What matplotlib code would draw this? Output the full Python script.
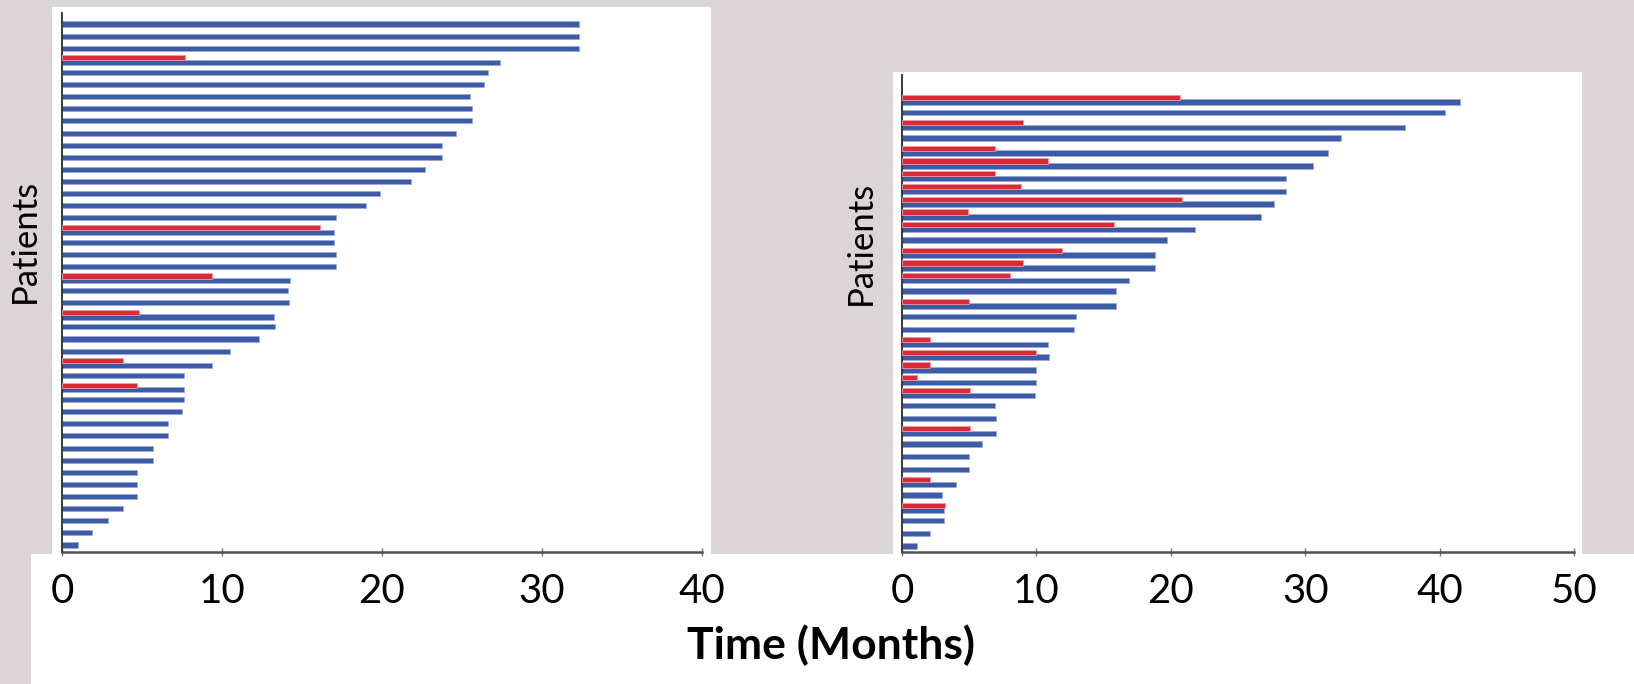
import matplotlib.pyplot as plt
import matplotlib.patches as mpatches
import numpy as np

# Left panel: time per patient (months), listed top to bottom
left_blue = [32.3, 32.3, 32.3, 27.4, 26.6, 26.4, 25.5, 25.6, 25.6, 24.6,
             23.75, 23.75, 22.7, 21.8, 19.9, 19.0, 17.1, 17.0, 17.0, 17.1,
             17.1, 14.25, 14.1, 14.2, 13.25, 13.3, 12.3, 10.5, 9.4, 7.6,
             7.6, 7.6, 7.5, 6.6, 6.6, 5.7, 5.7, 4.7, 4.7, 4.7,
             3.8, 2.9, 1.9, 1.0]
left_red_rows = [4, 18, 22, 25, 29, 31]
left_red_vals = [7.7, 16.1, 9.4, 4.8, 3.8, 4.7]

# Right panel, top to bottom
right_blue = [41.5, 40.4, 37.4, 32.7, 31.7, 30.6, 28.6, 28.6, 27.7, 26.7,
              21.8, 19.7, 18.8, 18.8, 16.9, 15.9, 15.9, 12.96, 12.8, 10.9,
              10.97, 9.97, 9.97, 9.9, 6.93, 7.0, 7.0, 5.96, 5.0, 5.0,
              4.03, 2.97, 3.1, 3.1, 2.06, 1.15]
right_red_rows = [1, 3, 5, 6, 7, 8, 9, 10, 11, 13, 14, 15, 17, 20, 21, 22, 23, 24, 27, 31, 33]
right_red_vals = [20.7, 9.0, 6.93, 10.9, 6.93, 8.86, 20.8, 4.9, 15.8, 11.9, 9.0, 8.0,
                  5.0, 2.06, 9.97, 2.06, 1.1, 5.05, 5.05, 2.06, 3.2]

left_ticks = [0, 10, 20, 30, 40]
right_ticks = [0, 10, 20, 30, 40, 50]

BLUE = '#3d5aa6'
BLUE_EDGE = '#9aaad6'
RED = '#d92a36'
RED_EDGE = '#ee9aa0'

W, H = 1634, 684
fig = plt.figure(figsize=(W / 100, H / 100), dpi=100)
fig.patch.set_facecolor('#dcd5d7')

# white panels behind the charts
def white_rect(x0, y0, x1, y1):
    fig.patches.append(mpatches.Rectangle((x0 / W, 1 - y1 / H), (x1 - x0) / W, (y1 - y0) / H,
                                          transform=fig.transFigure, facecolor='white',
                                          edgecolor='none', zorder=-5))

white_rect(52, 7, 711, 554)
white_rect(893, 72, 1582, 554)
white_rect(31, 554, 1634, 684)


def draw_panel(ax, blue, red_rows, red_vals, xmax, ticks, ylo, yhi):
    n = len(blue)
    pos = np.arange(n, 0, -1).astype(float)
    has_red = np.zeros(n, dtype=bool)
    has_red[np.array(red_rows) - 1] = True
    blue_pos = pos - 0.18 * has_red
    red_pos = pos[np.array(red_rows) - 1] + 0.2
    ax.barh(blue_pos, blue, height=0.42, color=BLUE, edgecolor=BLUE_EDGE, linewidth=0.6, zorder=2)
    ax.barh(red_pos, red_vals, height=0.42, color=RED, edgecolor=RED_EDGE, linewidth=0.6, zorder=3)
    ax.set_xlim(0, xmax)
    ax.set_ylim(ylo, yhi)
    ax.set_facecolor('none')
    ax.set_zorder(2)
    for s in ['top', 'right']:
        ax.spines[s].set_visible(False)
    ax.spines['left'].set_color('#2b2b2b')
    ax.spines['left'].set_linewidth(1.3)
    ax.spines['bottom'].set_color('#505050')
    ax.spines['bottom'].set_linewidth(1.8)
    ax.set_yticks([])
    ax.set_xticks(ticks)
    ax.set_xticklabels([str(t) for t in ticks], fontsize=29, family='Lato')
    ax.tick_params(axis='x', direction='inout', length=6, width=1, color='#777777', pad=12)


ax1 = fig.add_axes([62 / W, 1 - 552 / H, 640 / W, 539 / H])
draw_panel(ax1, left_blue, left_red_rows, left_red_vals, 40, left_ticks, 0.42, 44.91)

ax2 = fig.add_axes([902 / W, 1 - 552 / H, 672 / W, 477 / H])
draw_panel(ax2, right_blue, right_red_rows, right_red_vals, 50, right_ticks, 0.53, 37.95)

fig.text(25 / W, 1 - 241 / H, 'Patients', fontsize=25, family='Lato', rotation=90,
         ha='center', va='center')
fig.text(861 / W, 1 - 243 / H, 'Patients', fontsize=25, family='Lato', rotation=90,
         ha='center', va='center')

fig.text(831 / W, 1 - 645 / H, 'Time (Months)', fontsize=32, fontweight='bold',
         family='Lato', ha='center', va='center')

fig.savefig('out.png', dpi=100, facecolor=fig.get_facecolor())
